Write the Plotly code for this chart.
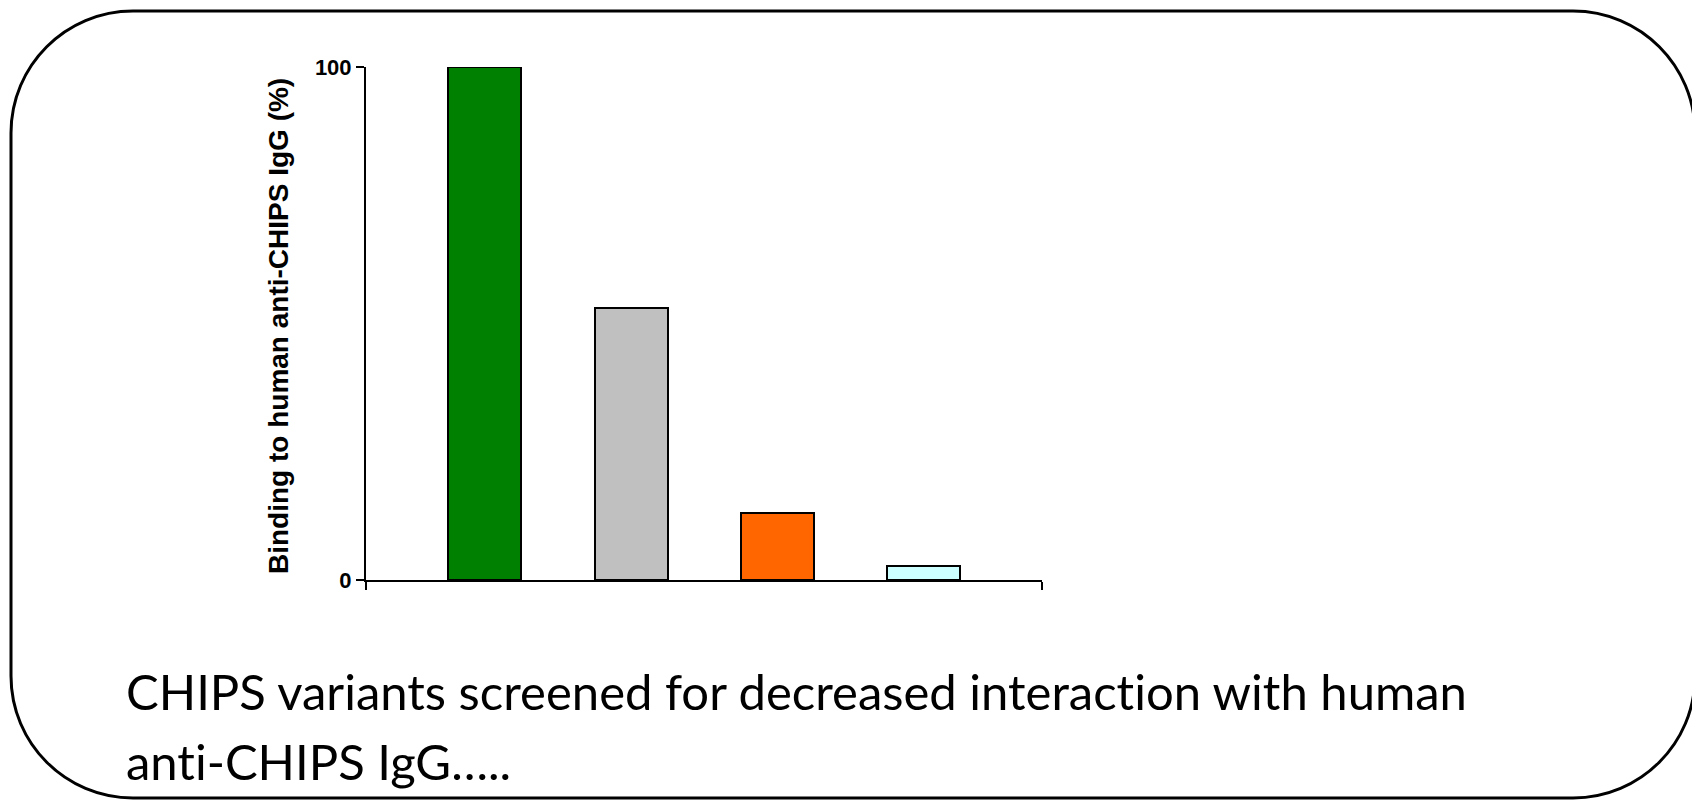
import plotly.graph_objects as go

# Binding of CHIPS variants to human anti-CHIPS IgG, relative to wild type
variant_pos = [0, 1, 2, 3]
binding_pct = [100, 53, 13, 2.7]
bar_colors = ["#008000", "#C0C0C0", "#FF6600", "#CCFFFF"]
y_ticks = [0, 100]
y_title = "Binding to human anti-CHIPS IgG (%)"
# a zero-width non-joiner keeps "t" and "i" as separate glyphs
caption_lines = [
    "CHIPS variants screened for decreased interact\u200cion with human",
    "ant\u200ci-CHIPS IgG…..",
]

W, H = 1692, 801
X_RANGE = [-0.815, 3.815]


def px(x):
    return x / W


def py(y):
    return 1 - y / H


fig = go.Figure()
fig.add_trace(go.Bar(
    x=variant_pos,
    y=binding_pct,
    width=0.5,
    marker=dict(color=bar_colors, line=dict(color="black", width=2)),
    hoverinfo="skip",
))

# rounded frame around the slide content
L, T, R, B, r = 11, 11, 1695, 798, 122
k = 0.5523 * r
path = (
    f"M {px(L + r)},{py(T)} L {px(R - r)},{py(T)} "
    f"C {px(R - r + k)},{py(T)} {px(R)},{py(T + r - k)} {px(R)},{py(T + r)} "
    f"L {px(R)},{py(B - r)} "
    f"C {px(R)},{py(B - r + k)} {px(R - r + k)},{py(B)} {px(R - r)},{py(B)} "
    f"L {px(L + r)},{py(B)} "
    f"C {px(L + r - k)},{py(B)} {px(L)},{py(B - r + k)} {px(L)},{py(B - r)} "
    f"L {px(L)},{py(T + r)} "
    f"C {px(L)},{py(T + r - k)} {px(L + r - k)},{py(T)} {px(L + r)},{py(T)} Z"
)
fig.add_shape(type="path", path=path, xref="paper", yref="paper",
              line=dict(color="black", width=3), layer="below")

# y-axis title
fig.add_annotation(
    x=px(278), y=py(326), xref="paper", yref="paper",
    text=f"<b>{y_title}</b>", textangle=-90, showarrow=False,
    font=dict(family="Liberation Sans, Arial", size=28, color="black"),
    xanchor="center", yanchor="middle",
)

# caption below the chart
for i, line in enumerate(caption_lines):
    fig.add_annotation(
        x=px(124), y=py(710 + 70 * i), xref="paper", yref="paper",
        text=line, showarrow=False, align="left",
        font=dict(family="Lato, Noto Sans", size=49, color="black"),
        xanchor="left", yanchor="bottom", yshift=-12,
    )

fig.update_layout(
    width=W, height=H, autosize=False,
    margin=dict(l=0, r=0, t=0, b=0, autoexpand=False),
    paper_bgcolor="white", plot_bgcolor="white",
    showlegend=False, bargap=0,
    xaxis=dict(
        domain=[px(366), px(1042)], range=X_RANGE,
        showline=True, linecolor="black", linewidth=2,
        tickvals=X_RANGE, ticktext=["", ""], ticks="outside",
        ticklen=8, tickwidth=2, tickcolor="black", automargin=False,
        showgrid=False, zeroline=False, fixedrange=True,
    ),
    yaxis=dict(
        domain=[py(580), py(67)], range=[0, 100],
        showline=True, linecolor="black", linewidth=2,
        tickvals=y_ticks, ticks="outside", ticklen=8, tickwidth=2,
        tickcolor="black", automargin=False,
        tickfont=dict(family="Liberation Sans, Arial", size=22,
                      color="black", weight="bold"),
        showgrid=False, zeroline=False, fixedrange=True,
    ),
)

fig.write_html(
    "out.html",
    config={"displayModeBar": False},
    post_script="document.body.style.margin='0';",
)
